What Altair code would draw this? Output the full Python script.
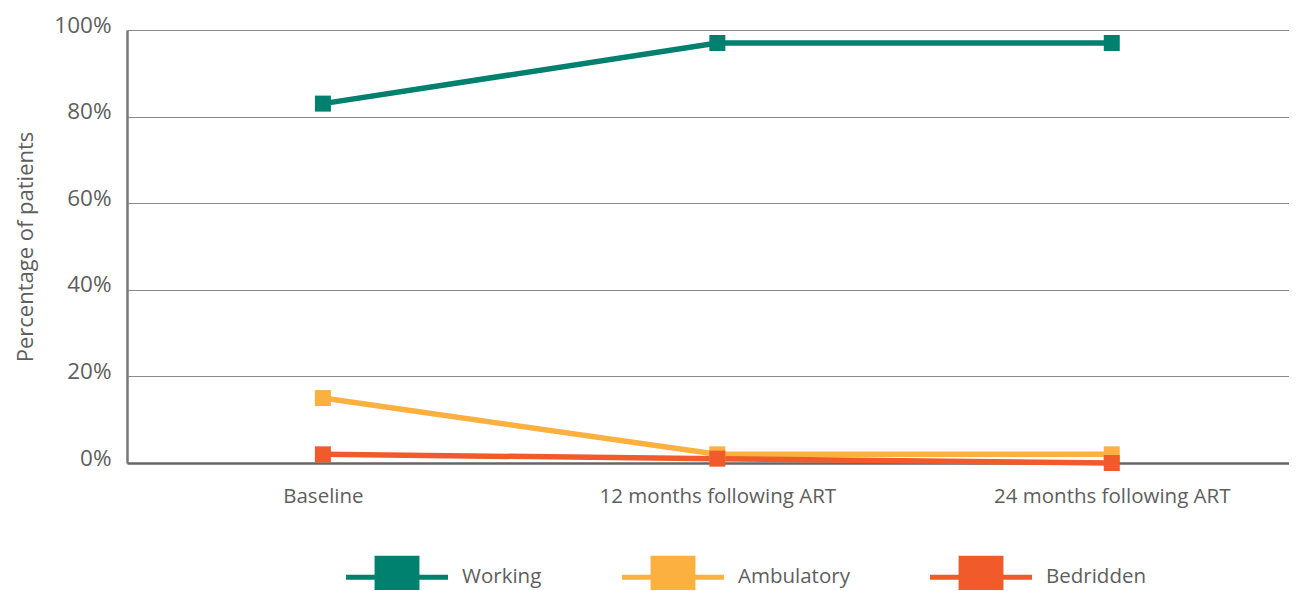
import altair as alt
import pandas as pd

categories = ["Baseline", "12 months following ART", "24 months following ART"]
series = ["Working", "Ambulatory", "Bedridden"]
working = [83, 97, 97]
ambulatory = [15, 2, 2]
bedridden = [2, 1, 0]
colors = ["#00806F", "#FBB040", "#F15A2B"]
y_ticks = [0, 20, 40, 60, 80, 100]

rows = []
for name, vals in zip(series, [working, ambulatory, bedridden]):
    for i, (c, v) in enumerate(zip(categories, vals)):
        rows.append({"time": c, "series": name, "value": v, "order": i})
df = pd.DataFrame(rows)

FONT = "Open Sans"
TXT = "#5e5e5e"

legend_path = "M-1,-0.05H1V0.05H-1Z M-0.44,-0.42H0.44V0.42H-0.44Z"

x_enc = alt.X(
    "time:N",
    sort=categories,
    scale=alt.Scale(type="point", padding=0.473, align=0.525),
    axis=alt.Axis(
        title=None, labelAngle=0, ticks=False, grid=False,
        domainColor="#666666", domainWidth=2.5,
        labelFontSize=20.5, labelColor=TXT, labelFont=FONT, labelLimit=500,
        labelPadding=23, labelBaseline="top",
    ),
)
y_enc = alt.Y(
    "value:Q",
    scale=alt.Scale(domain=[0, 100], nice=False, zero=True),
    axis=alt.Axis(
        title="Percentage of patients", values=y_ticks,
        labelExpr="datum.value + '%'", ticks=False,
        grid=True, gridColor="#8a8a8a", gridWidth=1,
        domainColor="#777777", domainWidth=2.5,
        labelFontSize=22.5, labelColor=TXT, labelFont=FONT,
        labelPadding=16, labelBaseline="middle", labelOffset=-5,
        titleFontSize=22, titleColor=TXT, titleFont=FONT,
        titleFontWeight="normal", titlePadding=16,
    ),
)
color_scale = alt.Scale(domain=series, range=colors)

lines = alt.Chart(df).mark_line(strokeWidth=5.5).encode(
    x=x_enc, y=y_enc,
    color=alt.Color("series:N", scale=color_scale, legend=None),
    order=alt.Order("order:Q"),
)
points = alt.Chart(df).mark_point(filled=True, shape="square", size=256, opacity=1).encode(
    x=x_enc, y=y_enc,
    color=alt.Color(
        "series:N", scale=color_scale,
        legend=alt.Legend(
            title=None, orient="none", direction="horizontal",
            legendX=219, legendY=496, padding=0,
            symbolType=legend_path, symbolSize=10404, symbolStrokeWidth=0,
            symbolOpacity=1,
            labelFontSize=20.5, labelColor=TXT, labelFont=FONT, labelLimit=300,
            labelOffset=14, columnPadding=80,
        ),
    ),
)

chart = (
    alt.layer(lines, points)
    .resolve_legend(color="independent")
    .properties(
        width=1162, height=433,
        autosize=alt.AutoSizeParams(type="none"),
        padding={"left": 119, "top": 22, "right": 0, "bottom": 127},
    )
    .configure_view(stroke=None)
)

chart.save("out.html", embed_options={"renderer": "svg", "actions": False})
